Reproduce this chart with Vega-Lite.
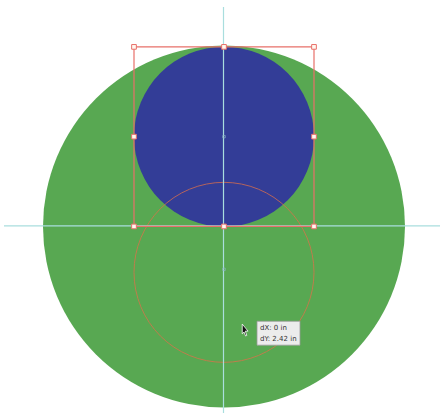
{
  "$schema": "https://vega.github.io/schema/vega-lite/v6.json",
  "width": 444,
  "height": 414,
  "autosize": {"type": "fit", "contains": "padding"},
  "padding": 0,
  "background": "white",
  "config": {"view": {"stroke": null}},
  "datasets": {
    "big": [{"name": "outer", "x": 224, "y": 227}],
    "small": [{"name": "moved", "x": 224, "y": 137}],
    "ghost": [{"name": "original", "x": 224, "y": 273}],
    "guidesV": [{"x": 223.5, "y": 7, "y2": 414}],
    "guidesH": [{"x": 4, "x2": 440, "y": 226.5}],
    "box": [{"x": 134, "x2": 314, "y": 47, "y2": 227}],
    "handles": [
      {"x": 134, "y": 47}, {"x": 224, "y": 47}, {"x": 314, "y": 47},
      {"x": 134, "y": 137}, {"x": 314, "y": 137},
      {"x": 134, "y": 227}, {"x": 224, "y": 227}, {"x": 314, "y": 227}
    ],
    "centers": [{"x": 224, "y": 137}, {"x": 224, "y": 270}],
    "tip": [{"x": 257, "x2": 300, "y": 322, "y2": 346}],
    "tiptext": [{"x": 260, "y": 329, "label": "dX: 0 in"}, {"x": 260, "y": 340, "label": "dY: 2.42 in"}],
    "cursor": [{"x": 245, "y": 331}]
  },
  "encoding": {
    "x": {"field": "x", "type": "quantitative", "scale": {"domain": [0, 444], "nice": false, "zero": false}, "axis": null},
    "y": {"field": "y", "type": "quantitative", "scale": {"domain": [0, 414], "nice": false, "zero": false, "reverse": true}, "axis": null}
  },
  "layer": [
    {"data": {"name": "big"}, "mark": {"type": "point", "shape": "circle", "filled": true, "size": 131044, "color": "#58a852", "opacity": 1, "strokeWidth": 0}},
    {"data": {"name": "small"}, "mark": {"type": "point", "shape": "circle", "filled": true, "size": 32400, "color": "#333d97", "opacity": 1, "strokeWidth": 0}},
    {"data": {"name": "ghost"}, "mark": {"type": "point", "shape": "circle", "filled": false, "size": 32400, "color": "#e0704a", "strokeWidth": 1, "opacity": 0.75}},
    {"data": {"name": "guidesV"}, "mark": {"type": "rule", "color": "#a9dede", "strokeWidth": 1.2}, "encoding": {"y2": {"field": "y2"}}},
    {"data": {"name": "guidesH"}, "mark": {"type": "rule", "color": "#a9dede", "strokeWidth": 1.2}, "encoding": {"x2": {"field": "x2"}}},
    {"data": {"name": "box"}, "mark": {"type": "rect", "fill": null, "fillOpacity": 0, "stroke": "#e8706a", "strokeWidth": 1.2}, "encoding": {"x2": {"field": "x2"}, "y2": {"field": "y2"}}},
    {"data": {"name": "centers"}, "mark": {"type": "point", "shape": "square", "filled": false, "size": 6, "color": "#8fb8c8", "strokeWidth": 1}},
    {"data": {"name": "handles"}, "mark": {"type": "point", "shape": "square", "filled": true, "size": 22, "fill": "#fff8f0", "stroke": "#e8706a", "strokeWidth": 1, "opacity": 1}},
    {"data": {"name": "tip"}, "mark": {"type": "rect", "fill": "#ececec", "stroke": "#9a9a9a", "strokeWidth": 0.8}, "encoding": {"x2": {"field": "x2"}, "y2": {"field": "y2"}}},
    {"data": {"name": "tiptext"}, "mark": {"type": "text", "align": "left", "baseline": "middle", "fontSize": 7, "font": "DejaVu Sans", "color": "#333333"}, "encoding": {"text": {"field": "label"}}},
    {"data": {"name": "cursor"}, "mark": {"type": "point", "shape": "M-0.45,-1 L0.5,0.15 L0.05,0.15 L0.3,0.85 L0.1,0.95 L-0.15,0.3 L-0.45,0.6 Z", "filled": true, "size": 150, "fill": "#111111", "stroke": "white", "strokeWidth": 0.8, "opacity": 1}}
  ]
}
